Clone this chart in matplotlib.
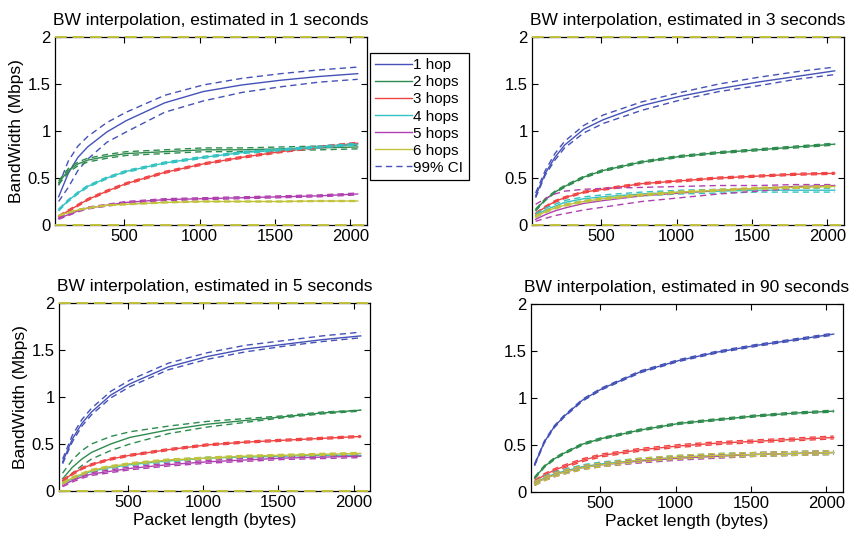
import numpy as np
import matplotlib
matplotlib.use('Agg')
import matplotlib.pyplot as plt
from matplotlib.ticker import FormatStrFormatter

plt.rcParams['font.family'] = ['Liberation Sans', 'DejaVu Sans']

# packet lengths (bytes)
pkt = [64, 128, 192, 256, 384, 512, 768, 1024, 1280, 1536, 1792, 2048]

labels = ['1 hop', '2 hops', '3 hops', '4 hops', '5 hops', '6 hops']
colors = ['#4452b8', '#2e8b4e', '#f04444', '#33c2c2', '#b040b0', '#c2c23c']
titles = ['BW interpolation, estimated in 1 seconds',
          'BW interpolation, estimated in 3 seconds',
          'BW interpolation, estimated in 5 seconds',
          'BW interpolation, estimated in 90 seconds']

# mean bandwidth (Mbps), one row per hop count
mean_1s = [
    [0.30, 0.55, 0.72, 0.83, 0.99, 1.11, 1.30, 1.42, 1.49, 1.54, 1.58, 1.61],
    [0.45, 0.58, 0.65, 0.69, 0.73, 0.76, 0.78, 0.80, 0.80, 0.81, 0.82, 0.83],
    [0.09, 0.15, 0.21, 0.27, 0.36, 0.44, 0.56, 0.65, 0.72, 0.78, 0.83, 0.87],
    [0.16, 0.26, 0.34, 0.41, 0.50, 0.57, 0.66, 0.72, 0.77, 0.80, 0.83, 0.86],
    [0.07, 0.11, 0.15, 0.18, 0.21, 0.24, 0.27, 0.28, 0.29, 0.30, 0.31, 0.33],
    [0.10, 0.13, 0.16, 0.18, 0.21, 0.22, 0.24, 0.25, 0.25, 0.25, 0.255, 0.255],
]
mean_3s = [
    [0.31, 0.55, 0.72, 0.85, 1.02, 1.12, 1.27, 1.37, 1.45, 1.52, 1.58, 1.64],
    [0.16, 0.27, 0.35, 0.41, 0.51, 0.58, 0.67, 0.73, 0.77, 0.80, 0.83, 0.86],
    [0.12, 0.19, 0.25, 0.29, 0.35, 0.38, 0.44, 0.47, 0.50, 0.52, 0.54, 0.55],
    [0.10, 0.16, 0.20, 0.24, 0.28, 0.30, 0.33, 0.35, 0.36, 0.37, 0.37, 0.37],
    [0.06, 0.11, 0.15, 0.18, 0.23, 0.26, 0.31, 0.34, 0.37, 0.39, 0.41, 0.42],
    [0.09, 0.14, 0.18, 0.21, 0.25, 0.28, 0.32, 0.35, 0.37, 0.39, 0.40, 0.41],
]
mean_5s = [
    [0.31, 0.55, 0.72, 0.84, 1.02, 1.14, 1.32, 1.43, 1.51, 1.56, 1.61, 1.65],
    [0.13, 0.25, 0.34, 0.41, 0.50, 0.57, 0.65, 0.71, 0.75, 0.79, 0.83, 0.86],
    [0.11, 0.18, 0.24, 0.28, 0.34, 0.38, 0.44, 0.49, 0.52, 0.54, 0.56, 0.58],
    [0.08, 0.13, 0.17, 0.21, 0.25, 0.28, 0.32, 0.35, 0.36, 0.37, 0.38, 0.38],
    [0.06, 0.11, 0.15, 0.18, 0.21, 0.24, 0.28, 0.31, 0.33, 0.35, 0.36, 0.37],
    [0.08, 0.14, 0.18, 0.22, 0.26, 0.29, 0.33, 0.35, 0.37, 0.38, 0.39, 0.40],
]
mean_90s = [
    [0.29, 0.53, 0.69, 0.80, 0.98, 1.10, 1.28, 1.40, 1.49, 1.56, 1.62, 1.68],
    [0.15, 0.27, 0.35, 0.41, 0.51, 0.57, 0.66, 0.73, 0.77, 0.81, 0.84, 0.86],
    [0.11, 0.18, 0.23, 0.27, 0.34, 0.39, 0.45, 0.49, 0.52, 0.54, 0.56, 0.58],
    [0.09, 0.15, 0.19, 0.22, 0.27, 0.30, 0.34, 0.37, 0.39, 0.40, 0.41, 0.42],
    [0.09, 0.14, 0.18, 0.21, 0.26, 0.29, 0.33, 0.36, 0.38, 0.40, 0.41, 0.42],
    [0.09, 0.14, 0.18, 0.21, 0.26, 0.29, 0.34, 0.37, 0.39, 0.40, 0.41, 0.42],
]

# 99% CI half-widths for the narrow bands (per hop)
ci_half_1s = [0.0, 0.02, 0.01, 0.01, 0.01, 0.005]
ci_half_3s = [0.0, 0.01, 0.01, 0.02, 0.0, 0.01]
ci_half_5s = [0.0, 0.0, 0.01, 0.01, 0.015, 0.01]
ci_half_90s = [0.01, 0.01, 0.015, 0.02, 0.02, 0.02]

# wide CI bounds read directly
ci_1s_hop1_lo = [0.25, 0.40, 0.58, 0.70, 0.88, 0.99, 1.20, 1.32, 1.41, 1.47, 1.52, 1.55]
ci_1s_hop1_hi = [0.42, 0.68, 0.84, 0.94, 1.09, 1.20, 1.38, 1.49, 1.56, 1.61, 1.65, 1.68]
ci_3s_hop1_lo = [0.29, 0.53, 0.69, 0.82, 0.98, 1.08, 1.22, 1.33, 1.42, 1.48, 1.55, 1.60]
ci_3s_hop1_hi = [0.34, 0.58, 0.76, 0.89, 1.06, 1.17, 1.31, 1.41, 1.50, 1.57, 1.63, 1.68]
ci_3s_hop5_lo = [0.04, 0.07, 0.10, 0.12, 0.16, 0.19, 0.25, 0.29, 0.33, 0.36, 0.39, 0.41]
ci_3s_hop5_hi = [0.22, 0.28, 0.33, 0.36, 0.38, 0.39, 0.40, 0.41, 0.42, 0.42, 0.43, 0.43]
ci_5s_hop1_lo = [0.29, 0.52, 0.69, 0.81, 0.99, 1.11, 1.29, 1.40, 1.48, 1.54, 1.59, 1.63]
ci_5s_hop1_hi = [0.34, 0.59, 0.76, 0.88, 1.06, 1.18, 1.36, 1.47, 1.55, 1.60, 1.65, 1.69]
ci_5s_hop2_lo = [0.09, 0.19, 0.27, 0.34, 0.43, 0.50, 0.61, 0.68, 0.73, 0.78, 0.82, 0.85]
ci_5s_hop2_hi = [0.19, 0.33, 0.43, 0.50, 0.58, 0.63, 0.69, 0.74, 0.77, 0.80, 0.84, 0.86]

wide_ci = {
    (0, 0): (ci_1s_hop1_lo, ci_1s_hop1_hi),
    (1, 0): (ci_3s_hop1_lo, ci_3s_hop1_hi),
    (1, 4): (ci_3s_hop5_lo, ci_3s_hop5_hi),
    (2, 0): (ci_5s_hop1_lo, ci_5s_hop1_hi),
    (2, 1): (ci_5s_hop2_lo, ci_5s_hop2_hi),
}

means = [mean_1s, mean_3s, mean_5s, mean_90s]
halves = [ci_half_1s, ci_half_3s, ci_half_5s, ci_half_90s]

fig = plt.figure(figsize=(8.53, 5.38), dpi=100)
rects = [
    [0.0645, 0.5818, 0.3658, 0.3494],
    [0.6237, 0.5818, 0.3658, 0.3494],
    [0.0692, 0.0874, 0.3646, 0.3494],
    [0.6225, 0.0855, 0.3658, 0.3494],
]

dash = (0, (4.5, 3))
x = np.array(pkt)
for p in range(4):
    ax = fig.add_axes(rects[p])
    for h in range(6):
        m = np.array(means[p][h])
        if (p, h) in wide_ci:
            lo, hi = wide_ci[(p, h)]
        else:
            lo, hi = m - halves[p][h], m + halves[p][h]
        ax.plot(x, m, color=colors[h], lw=1.0, label=labels[h], zorder=3)
        ax.plot(x, lo, color=colors[h], lw=1.0, ls=dash, zorder=3)
        ax.plot(x, hi, color=colors[h], lw=1.0, ls=dash, zorder=3)
    # unbounded 6-hop CI in the short windows runs along the axis limits
    if p < 3:
        for yb in (0, 2):
            ax.plot([40, 2110], [yb, yb], color=colors[5], lw=1.4,
                    ls=(0, (6, 3)), clip_on=False, zorder=4)
    ax.set_xlim(40, 2110)
    ax.set_ylim(0, 2)
    ax.set_xticks([500, 1000, 1500, 2000])
    ax.set_yticks([0, 0.5, 1, 1.5, 2])
    ax.yaxis.set_major_formatter(FormatStrFormatter('%g'))
    ax.tick_params(direction='in', top=True, right=True, length=4,
                   labelsize=12, width=0.8, pad=3)
    for s in ax.spines.values():
        s.set_linewidth(0.9)
    ax.set_title(titles[p], fontsize=12.5, pad=8.5)
    if p in (0, 2):
        ax.set_ylabel('BandWidth (Mbps)', fontsize=12.5, labelpad=3)
    if p in (2, 3):
        ax.set_xlabel('Packet length (bytes)', fontsize=12.5, labelpad=2)
    if p == 0:
        handles = ax.get_lines()[0:18:3]
        ci_handle = plt.Line2D([], [], color=colors[0], lw=1.0, ls=dash)
        leg = fig.legend(list(handles) + [ci_handle], labels + ['99% CI'],
                         loc='upper left', bbox_to_anchor=(0.4338, 0.9015),
                         borderaxespad=0, fontsize=11, handlelength=2.4,
                         handletextpad=0.08, labelspacing=0.2,
                         fancybox=False, edgecolor='black', framealpha=1,
                         borderpad=0.35)
        leg.get_frame().set_linewidth(0.9)

fig.savefig('out.png', dpi=100)
